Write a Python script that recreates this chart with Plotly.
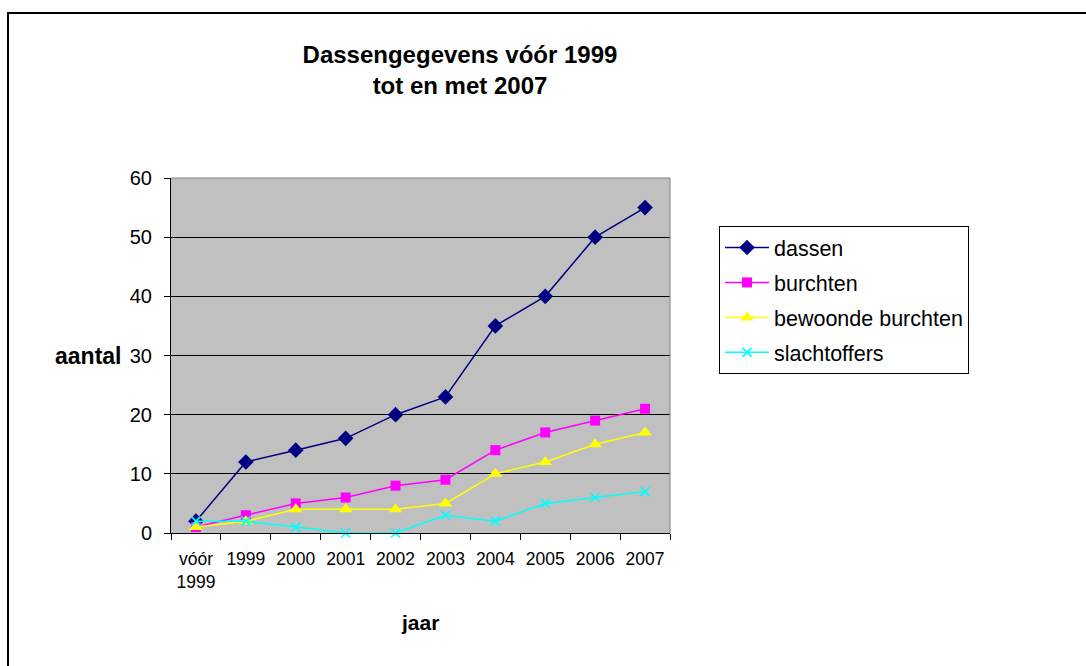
import plotly.graph_objects as go

categories = ["vóór<br>1999", "1999", "2000", "2001", "2002", "2003", "2004", "2005", "2006", "2007"]
dassen = [2, 12, 14, 16, 20, 23, 35, 40, 50, 55]
burchten = [1, 3, 5, 6, 8, 9, 14, 17, 19, 21]
bewoonde_burchten = [1, 2, 4, 4, 4, 5, 10, 12, 15, 17]
slachtoffers = [2, 2, 1, 0, 0, 3, 2, 5, 6, 7]

FONT = "Liberation Sans, Arial, sans-serif"

series = [
    ("dassen", dassen, "#000080", "diamond", 12),
    ("burchten", burchten, "#FF00FF", "square", 10),
    ("bewoonde burchten", bewoonde_burchten, "#FFFF00", "triangle-up", 12),
    ("slachtoffers", slachtoffers, "#00FFFF", "x-thin", 9),
]

fig = go.Figure()
for i, (name, vals, color, sym, size) in enumerate(series):
    fig.add_trace(go.Scatter(
        x=categories, y=vals, name=name, mode="lines+markers",
        legendgroup=f"g{i}",
        line=dict(color=color, width=1.5),
        marker=dict(symbol=sym, size=size, color=color,
                    line=dict(color=color, width=1.6 if sym == "x-thin" else 0)),
        cliponaxis=False,
    ))

L, R, T, B = 171, 416, 178, 133
W, H = 1086, 666
pw = W - L - R
ph = H - T - B

def px_x(p):
    return (p - L) / pw

def px_y(p):
    return (H - B - p) / ph

fig.update_layout(
    width=W, height=H,
    margin=dict(l=L, r=R, t=T, b=B, pad=0),
    paper_bgcolor="white",
    plot_bgcolor="#C0C0C0",
    font=dict(family=FONT, color="black"),
    title=dict(text="<b>Dassengegevens vóór 1999<br>tot en met 2007</b>",
               font=dict(size=24, family=FONT, color="black"),
               x=460 / W, xref="container", xanchor="center",
               y=1 - 63 / H, yref="container", yanchor="middle"),
    showlegend=True,
    legend=dict(x=px_x(719), y=px_y(226), xanchor="left", yanchor="top",
                bordercolor="black", borderwidth=1, bgcolor="white",
                font=dict(size=21.5, family=FONT, color="black"),
                itemwidth=44,
                traceorder="grouped", tracegroupgap=4),
    xaxis=dict(type="category", range=[-0.5, 9.5], tickson="boundaries",
               ticks="outside", ticklen=6, tickcolor="black",
               ticklabelstandoff=10,
               showline=True, linecolor="black", linewidth=1,
               showgrid=False, zeroline=False,
               tickfont=dict(size=17.5, family=FONT, color="black")),
    yaxis=dict(range=[0, 60], dtick=10, ticks="outside", ticklen=6,
               tickcolor="black", showline=True, linecolor="black", linewidth=1,
               ticklabelstandoff=8,
               showgrid=True, gridcolor="black", gridwidth=1, zeroline=False,
               tickfont=dict(size=20, family=FONT, color="black")),
    annotations=[
        dict(text="<b>aantal</b>", x=px_x(88), y=px_y(356), xref="paper",
             yref="paper", showarrow=False, font=dict(size=23, family=FONT, color="black"),
             xanchor="center", yanchor="middle"),
        dict(text="<b>jaar</b>", x=px_x(420), y=px_y(622), xref="paper", yref="paper",
             showarrow=False, font=dict(size=21, family=FONT, color="black"),
             xanchor="center", yanchor="middle"),
    ],
    shapes=[
        dict(type="line", xref="paper", yref="paper", x0=0, x1=1, y0=1, y1=1,
             line=dict(color="#808080", width=1), layer="above"),
        dict(type="line", xref="paper", yref="paper", x0=1, x1=1, y0=0, y1=1,
             line=dict(color="#808080", width=1), layer="above"),
        dict(type="rect", xref="paper", yref="paper",
             x0=px_x(8), x1=px_x(1120), y0=px_y(13), y1=px_y(700),
             line=dict(color="black", width=2), layer="below"),
    ],
)

fig.write_html("out.html",
               config={"displayModeBar": False},
               post_script="document.body.style.margin='0';document.body.style.padding='0';")
